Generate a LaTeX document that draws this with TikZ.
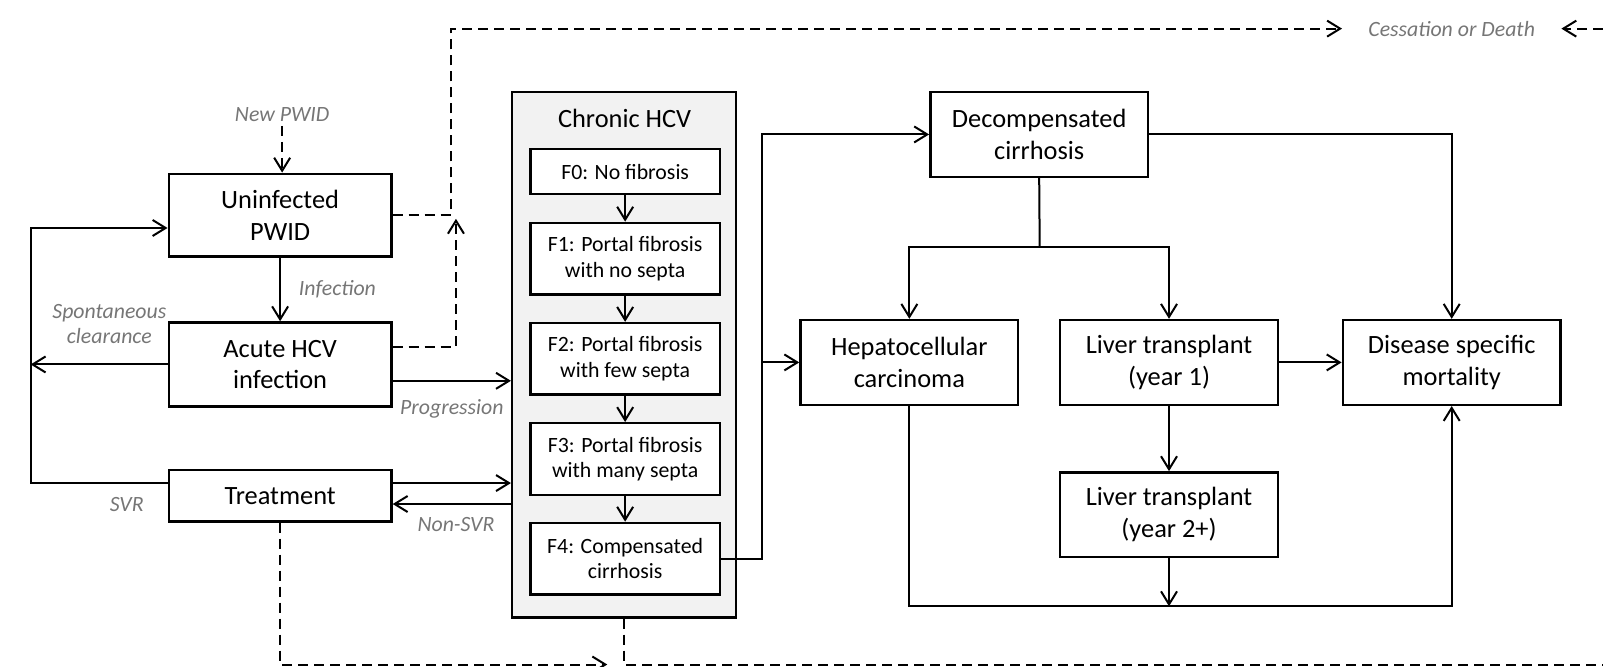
\documentclass[tikz,border=0pt]{standalone}
\usepackage{fontspec}
\setmainfont{Carlito}
\usepackage{tikz}
\usetikzlibrary{arrows.meta, positioning, calc}

\definecolor{labelgray}{RGB}{118,118,118}
\definecolor{chronicfill}{RGB}{242,242,242}

\tikzset{
  state/.style={draw, line width=1.2pt, align=center, inner sep=2pt, fill=white,
    minimum width=108.9pt, minimum height=42.4pt, font=\fontsize{13.2}{15.8}\selectfont},
  stage/.style={draw, line width=1.2pt, align=center, inner sep=1pt, fill=white,
    minimum width=94.6pt, minimum height=35.8pt, font=\fontsize{10.9}{12.8}\selectfont},
  flowlabel/.style={text=labelgray, align=center, inner sep=2pt, font=\fontsize{10.9}{12.8}\selectfont\itshape},
  conn/.style={line width=1pt},
  arr/.style={conn, -{Straight Barb[length=6.5pt,width=8pt]}},
  dasharr/.style={arr, dash pattern=on 5pt off 3pt},
  dashline/.style={conn, dash pattern=on 5pt off 3pt},
}

\begin{document}
\begin{tikzpicture}[x=0.5112pt, y=-0.5112pt]
    \useasboundingbox (0,0) rectangle (1568,652);

    % PWID states (left)
    \node[state, minimum width=111.4pt, minimum height=41.4pt] (uninf) at (274,210.5) {Uninfected\\PWID};
    \node[state, minimum width=111.4pt, minimum height=42pt] (acute) at (274,356.5) {Acute HCV\\infection};
    \node[state, minimum width=111.4pt, minimum height=25.6pt] (treat) at (274,485) {Treatment};

    % Chronic HCV block with fibrosis stages
    \node[draw, line width=1.2pt, fill=chronicfill, minimum width=112pt, minimum height=262.8pt] (chronic) at (610.5,347) {};
    \node[font=\fontsize{13.2}{15.8}\selectfont] (chrtitle) at (611,116) {Chronic HCV};
    \node[stage, minimum height=22.5pt] (f0) at (611.5,168) {F0: No fibrosis};
    \node[stage] (f1) at (611.5,253) {F1: Portal fibrosis\\with no septa};
    \node[stage] (f2) at (611.5,351) {F2: Portal fibrosis\\with few septa};
    \node[stage] (f3) at (611.5,449) {F3: Portal fibrosis\\with many septa};
    \node[stage] (f4) at (611.5,546.5) {F4: Compensated\\cirrhosis};

    % End-stage liver disease states (right)
    \node[state] (decomp) at (1016.5,131.5) {Decompensated\\cirrhosis};
    \node[state] (hepato) at (889.5,354.5) {Hepatocellular\\carcinoma};
    \node[state] (lt1) at (1143.5,354.5) {Liver transplant\\(year 1)};
    \node[state] (disease) at (1420,354.5) {Disease specific\\mortality};
    \node[state] (lt2) at (1143.5,503.5) {Liver transplant\\(year 2+)};

    % Transition labels
    \node[flowlabel] (newpwid) at (276,112) {New PWID};
    \node[flowlabel] (infection) at (330,283) {Infection};
    \node[flowlabel] (clearance) at (107,317) {Spontaneous\\clearance};
    \node[flowlabel] (progression) at (442,400) {Progression};
    \node[flowlabel] (svr) at (124,493) {SVR};
    \node[flowlabel] (nonsvr) at (446,513) {Non-SVR};
    \node[flowlabel] (cessation) at (1420,28) {Cessation or Death};

    % Helper points
    \coordinate (leftbus) at (30,0);
    \coordinate (topleft) at (441,28);
    \coordinate (meet) at (446,214);
    \coordinate (rightend) at (1568,28);
    \coordinate (bus) at (745,0);
    \coordinate (split) at (1017,242);
    \coordinate (base) at (0,593);
    \coordinate (floorL) at (594,650);
    \coordinate (floorR) at (1568,650);
    \coordinate (svrout) at ($(treat.west)+(0,-12.5)$);
    \coordinate (svrin) at ($(uninf.west)+(0,12.5)$);
    \coordinate (progout) at ($(acute.east)+(0,16)$);
    \coordinate (exitout) at ($(acute.east)+(0,-17.5)$);
    \coordinate (treatout) at ($(treat.east)+(0,-12.5)$);
    \coordinate (treatin) at ($(treat.east)+(0,8)$);

    % Left-hand flows
    \draw[dasharr] (newpwid.south) -- (newpwid.south |- uninf.north);
    \draw[arr] (uninf.south) -- (acute.north);
    \draw[arr] (acute.west) -- (acute.west -| leftbus);
    \draw[arr] (svrout) -- (svrout -| leftbus) |- (svrin);
    \draw[arr] (progout) -- (progout -| chronic.west);
    \draw[arr] (treatout) -- (treatout -| chronic.west);
    \draw[arr] (treatin -| chronic.west) -- (treatin);

    % Exits to cessation or death
    \draw[dasharr, shorten >=11pt] (uninf.east) -- (uninf.east -| topleft) -- (topleft) -- (cessation.west);
    \draw[dasharr] (exitout) -| (meet);
    \draw[dasharr, shorten >=11pt] (rightend) -- (cessation.east);
    \draw[dasharr] (treat.south) |- (floorL);
    \draw[dashline] (chronic.south) |- (floorR);

    % Fibrosis progression
    \foreach \a/\b in {f0/f1, f1/f2, f2/f3, f3/f4}
        \draw[arr] (\a) -- (\b);

    % Liver disease progression
    \draw[arr] (f4.east) -| (bus |- decomp.west) -- (decomp.west);
    \draw[arr] (bus |- hepato.west) -- (hepato.west);
    \draw[conn] (decomp.south) -- (split);
    \draw[arr] (split) -| (hepato.north);
    \draw[arr] (split) -| (lt1.north);
    \draw[arr] (decomp.east) -| (disease.north);
    \draw[arr] (lt1.east) -- (disease.west);
    \draw[arr] (lt1.south) -- (lt2.north);
    \draw[arr] (hepato.south) -- (hepato.south |- base) -| (disease.south);
    \draw[arr] (lt2.south) -- (lt2.south |- base);
\end{tikzpicture}
\end{document}
